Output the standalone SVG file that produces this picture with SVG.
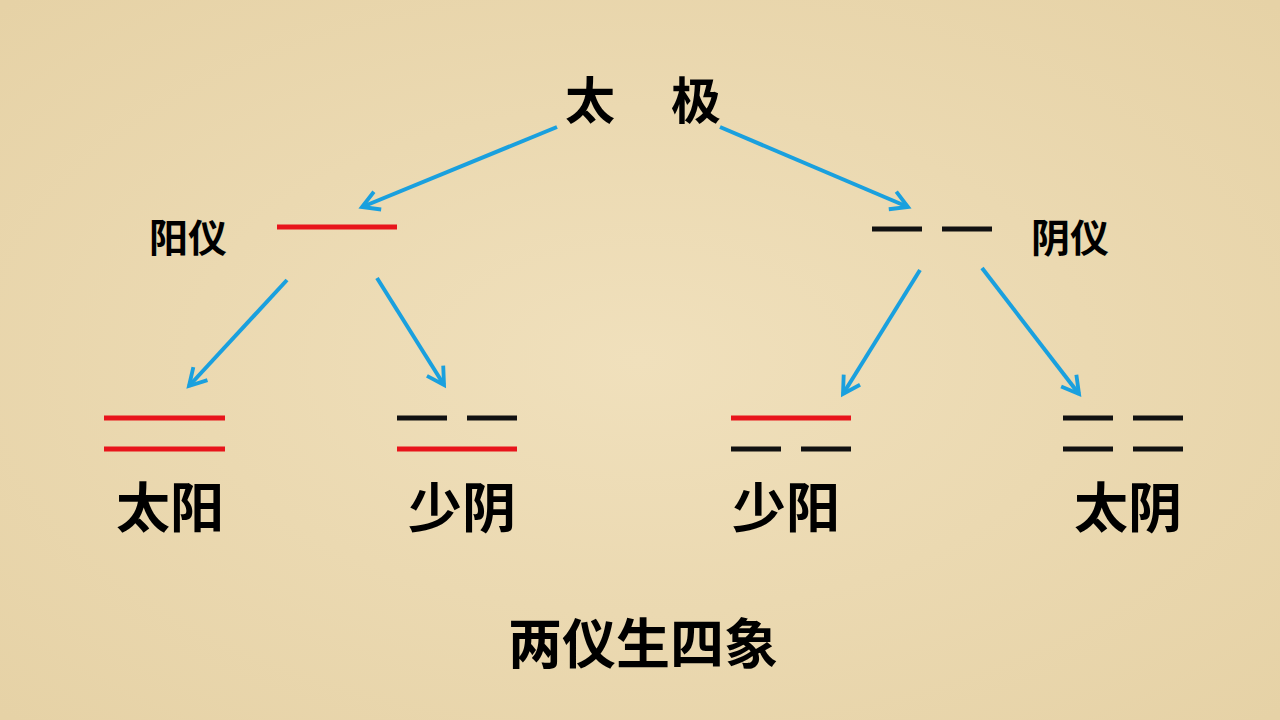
<svg xmlns="http://www.w3.org/2000/svg" width="1280" height="720" viewBox="0 0 1280 720">
<defs>
<style>
text{font-family:"Noto Sans CJK SC","Noto Sans CJK TC",sans-serif;font-weight:bold;fill:#000;text-anchor:middle}
.r{stroke:#E8141B;stroke-width:5}
.k{stroke:#111;stroke-width:5}
.a{stroke:#1AA0DE;stroke-width:4;fill:none;marker-end:url(#ah)}
</style>
<marker id="ah" viewBox="0 0 10 10" refX="8" refY="5" markerWidth="6" markerHeight="6" orient="auto" markerUnits="strokeWidth">
<path d="M1,1 L8,5 L1,9" fill="none" stroke="#1AA0DE" stroke-width="1.6"/>
</marker>
<radialGradient id="bg" cx="50%" cy="50%" r="70%">
<stop offset="0" stop-color="#F0E0BC"/><stop offset="1" stop-color="#E6D2A6"/>
</radialGradient>
</defs>
<rect width="1280" height="720" fill="url(#bg)"/>
<g id="taiji"><text x="590" y="119" font-size="50">太</text><text x="696" y="119" font-size="50">极</text></g>
<g id="yangyi"><text x="188" y="252" font-size="39">阳仪</text><line class="r" x1="277" y1="227" x2="397" y2="227"/></g>
<g id="yinyi"><text x="1070" y="252" font-size="39">阴仪</text><line class="k" x1="872" y1="229" x2="922" y2="229"/><line class="k" x1="942" y1="229" x2="992" y2="229"/></g>
<g id="taiyang"><line class="r" x1="104" y1="418" x2="225" y2="418"/><line class="r" x1="104" y1="449" x2="225" y2="449"/><text x="170" y="528" font-size="54">太阳</text></g>
<g id="shaoyin"><line class="k" x1="397" y1="418" x2="447" y2="418"/><line class="k" x1="467" y1="418" x2="517" y2="418"/><line class="r" x1="397" y1="449" x2="517" y2="449"/><text x="462" y="528" font-size="54">少阴</text></g>
<g id="shaoyang"><line class="r" x1="731" y1="418" x2="851" y2="418"/><line class="k" x1="731" y1="449" x2="781" y2="449"/><line class="k" x1="801" y1="449" x2="851" y2="449"/><text x="786" y="528" font-size="54">少阳</text></g>
<g id="taiyin"><line class="k" x1="1063" y1="418" x2="1113" y2="418"/><line class="k" x1="1133" y1="418" x2="1183" y2="418"/><line class="k" x1="1063" y1="449" x2="1113" y2="449"/><line class="k" x1="1133" y1="449" x2="1183" y2="449"/><text x="1128" y="528" font-size="54">太阴</text></g>
<g id="title"><text x="643" y="664" font-size="54">两仪生四象</text></g>
<g id="connectors">
<line class="a" x1="557" y1="127" x2="362" y2="207"/>
<line class="a" x1="720" y1="127" x2="908" y2="207"/>
<line class="a" x1="287" y1="280" x2="189" y2="386"/>
<line class="a" x1="377" y1="278" x2="444" y2="385"/>
<line class="a" x1="920" y1="270" x2="843" y2="394"/>
<line class="a" x1="982" y1="268" x2="1079" y2="394"/>
</g>
</svg>
